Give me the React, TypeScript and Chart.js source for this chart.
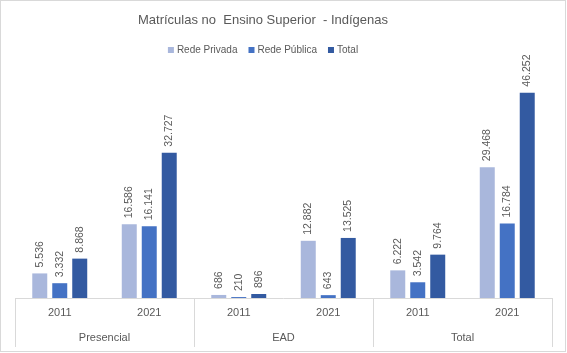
import React, { useEffect, useRef } from "react";
import { Chart, registerables } from "chart.js";

Chart.register(...registerables);

const title = "Matrículas no  Ensino Superior  - Indígenas";
const groups = ["Presencial", "EAD", "Total"];
const years = ["2011", "2021"];
const categories = ["2011", "2021", "2011", "2021", "2011", "2021"];
const seriesNames = ["Rede Privada", "Rede Pública", "Total"];
const redePrivada = [5536, 16586, 686, 12882, 6222, 29468];
const redePublica = [3332, 16141, 210, 643, 3542, 16784];
const total = [8868, 32727, 896, 13525, 9764, 46252];
const colors = ["#A9B7DC", "#4472C4", "#335AA1"];

const FONT = "'Liberation Sans', 'DejaVu Sans', sans-serif";
const TEXT = "#595959";
const LINE = "#D9D9D9";

function fmt(v: number): string {
  return v.toString().replace(/\B(?=(\d{3})+(?!\d))/g, ".");
}

const decorPlugin = {
  id: "decor",
  afterDraw(chart: any) {
    const ctx = chart.ctx as CanvasRenderingContext2D;
    const area = chart.chartArea;
    const xs = chart.scales.x;
    ctx.save();
    // chart border
    ctx.strokeStyle = LINE;
    ctx.lineWidth = 1;
    ctx.strokeRect(0.5, 0.5, chart.width - 2, chart.height - 2);

    // title
    const cx = 263;
    ctx.fillStyle = TEXT;
    ctx.font = `13px ${FONT}`;
    ctx.textAlign = "center";
    ctx.textBaseline = "middle";
    ctx.fillText(title, cx, 20);

    // legend
    ctx.font = `10px ${FONT}`;
    const box = 6;
    const gapBoxText = 3;
    const gapItems = 11;
    const widths = seriesNames.map((n) => box + gapBoxText + ctx.measureText(n).width);
    const totalW = widths.reduce((a, b) => a + b, 0) + gapItems * (widths.length - 1);
    let lx = cx - totalW / 2;
    ctx.textAlign = "left";
    seriesNames.forEach((n, i) => {
      ctx.fillStyle = colors[i];
      ctx.fillRect(lx, 50 - box / 2, box, box);
      ctx.fillStyle = TEXT;
      ctx.fillText(n, lx + box + gapBoxText, 50);
      lx += widths[i] + gapItems;
    });

    // data labels
    ctx.font = `10.5px ${FONT}`;
    chart.data.datasets.forEach((ds: any, di: number) => {
      const meta = chart.getDatasetMeta(di);
      meta.data.forEach((bar: any, i: number) => {
        ctx.save();
        ctx.translate(bar.x, bar.y - 6);
        ctx.rotate(-Math.PI / 2);
        ctx.fillStyle = TEXT;
        ctx.textAlign = "left";
        ctx.textBaseline = "middle";
        ctx.fillText(fmt(ds.data[i]), 0, 0);
        ctx.restore();
      });
    });

    // category axis
    ctx.strokeStyle = LINE;
    ctx.beginPath();
    ctx.moveTo(area.left, area.bottom + 0.5);
    ctx.lineTo(area.right, area.bottom + 0.5);
    const catW = (area.right - area.left) / categories.length;
    for (let g = 0; g <= groups.length; g++) {
      const x = Math.round(area.left + g * catW * years.length) + 0.5;
      ctx.moveTo(x, area.bottom);
      ctx.lineTo(x, area.bottom + 49);
    }
    ctx.stroke();

    ctx.fillStyle = TEXT;
    ctx.font = `11px ${FONT}`;
    ctx.textAlign = "center";
    ctx.textBaseline = "middle";
    categories.forEach((c, i) => {
      ctx.fillText(c, xs.getPixelForValue(i), area.bottom + 15);
    });
    groups.forEach((g, gi) => {
      const a = xs.getPixelForValue(gi * years.length);
      const b = xs.getPixelForValue(gi * years.length + years.length - 1);
      ctx.fillText(g, (a + b) / 2, area.bottom + 40);
    });
    ctx.restore();
  },
};

export default function App() {
  const ref = useRef<HTMLCanvasElement>(null);
  useEffect(() => {
    const chart = new Chart(ref.current!, {
      type: "bar",
      data: {
        labels: categories,
        datasets: [
          { label: seriesNames[0], data: redePrivada, backgroundColor: colors[0] },
          { label: seriesNames[1], data: redePublica, backgroundColor: colors[1] },
          { label: seriesNames[2], data: total, backgroundColor: colors[2] },
        ],
      },
      options: {
        animation: false,
        responsive: true,
        maintainAspectRatio: false,
        layout: { padding: { top: 76, left: 15, right: 15, bottom: 55 } },
        plugins: { legend: { display: false }, title: { display: false }, tooltip: { enabled: false } },
        datasets: { bar: { categoryPercentage: 0.67, barPercentage: 0.75 } },
        scales: {
          x: { display: false },
          y: { display: false, min: 0, max: 50000 },
        },
      },
      plugins: [decorPlugin],
    });
    return () => chart.destroy();
  }, []);
  return (
    <div style={{ position: "absolute", left: 0, top: 0, width: 567, height: 353, background: "#fff" }}>
      <canvas ref={ref} />
    </div>
  );
}
